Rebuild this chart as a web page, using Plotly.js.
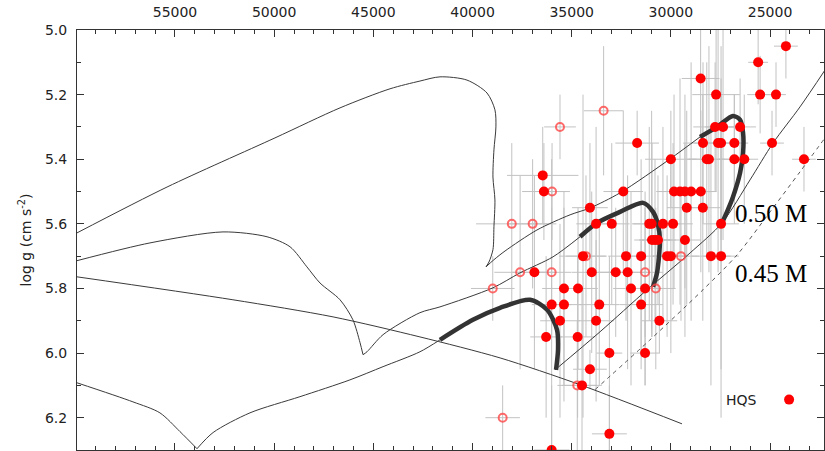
<!DOCTYPE html>
<html>
<head>
<meta charset="utf-8">
<script src="https://cdn.plot.ly/plotly-3.0.1.min.js"></script>
<style>html,body{margin:0;padding:0;background:#fff;}#chart{width:825px;height:451px;}</style>
</head>
<body>
<div id="chart"></div>
<script>
// ---- evolutionary tracks (Teff [K], log g), split at cusps ----
const trackA1_T = [59940, 55400, 49960, 46680, 44160, 42650, 41640, 40280, 39270, 38870, 38820, 38920, 38970, 38870, 38920, 38970, 39170, 39320];
const trackA1_G = [5.628, 5.486, 5.334, 5.241, 5.182, 5.158, 5.145, 5.155, 5.195, 5.247, 5.300, 5.371, 5.455, 5.526, 5.609, 5.680, 5.718, 5.733];
const trackA2_T = [39320, 38920, 38360, 36750, 35080, 34080, 32560, 30040, 28530];
const trackA2_G = [5.733, 5.711, 5.684, 5.619, 5.572, 5.551, 5.504, 5.399, 5.331];
const track050_T = [28530, 27670, 26870, 26510, 26360, 26360, 26510, 26870, 27170, 27420];
const track050_G = [5.331, 5.300, 5.266, 5.278, 5.319, 5.380, 5.442, 5.517, 5.563, 5.597];

const trackB1_T = [59940, 56260, 52580, 50360, 49200, 48350, 47690, 46680, 46030, 45670, 45520];
const trackB1_G = [5.714, 5.659, 5.625, 5.640, 5.671, 5.733, 5.783, 5.835, 5.897, 5.968, 6.005];
const trackB2_T = [45520, 45320, 44510, 42650, 41640, 38970, 37610, 35940, 34580];
const trackB2_G = [6.005, 5.996, 5.943, 5.875, 5.857, 5.798, 5.752, 5.702, 5.640];
const trackBthick_T = [34580, 33720, 32560, 31400, 30900, 30650, 30550, 30600, 30700, 30900];
const trackBthick_G = [5.640, 5.597, 5.563, 5.535, 5.563, 5.603, 5.650, 5.702, 5.752, 5.795];

const trackC1_T = [59940, 57120, 55760, 54750, 53890];
const trackC1_G = [6.092, 6.151, 6.185, 6.243, 6.296];
const trackC2_T = [53890, 53080, 51220, 48700, 46180, 44510, 42650, 41640];
const trackC2_G = [6.296, 6.246, 6.185, 6.135, 6.083, 6.042, 5.996, 5.959];
const trackCthick_T = [41640, 39980, 38610, 37100, 36240, 35740, 35690, 35790];
const trackCthick_G = [5.959, 5.897, 5.860, 5.835, 5.866, 5.928, 5.990, 6.052];

const lineD_T = [59940, 52080, 47030, 42650, 38610, 34580, 29440];
const lineD_G = [5.764, 5.835, 5.888, 5.950, 6.015, 6.098, 6.219];

const zaehb_T = [35840, 33570, 31200, 29030, 27420, 26010, 24850, 23490, 22230];
const zaehb_G = [6.052, 5.934, 5.804, 5.690, 5.597, 5.464, 5.350, 5.238, 5.124];

const dashed_T = [33820, 31050, 28380, 26660, 25000, 23490, 22230];
const dashed_G = [6.113, 5.959, 5.804, 5.696, 5.563, 5.439, 5.334];

// ---- HQS stars (filled) ----
const hqsT  = [24200,25600,28500,27720,25500,24700,27770,27370,26510,31700,28380,27620,27470,26800,24900,30000,28190,28080,26800,26300,23290,36460,36400,32400,29840,29540,29290,28980,28490,34080,29200,28390,33770,32980,31090,30970,30400,29890,27470,30950,30800,30650,29290,34430,32260,31500,30190,30000,27980,27470,36880,33990,32780,32180,35390,34680,32010,31300,36010,35390,33610,31500,35590,33770,30580,36290,34700,33100,31300,34080,34480,33100,36010];
const hqsG  = [5.05,5.10,5.15,5.20,5.20,5.20,5.30,5.30,5.30,5.35,5.35,5.35,5.35,5.35,5.35,5.40,5.40,5.40,5.40,5.40,5.40,5.45,5.50,5.50,5.50,5.50,5.50,5.50,5.50,5.55,5.55,5.55,5.60,5.60,5.60,5.60,5.60,5.60,5.60,5.65,5.65,5.65,5.65,5.70,5.70,5.70,5.70,5.70,5.70,5.70,5.75,5.75,5.75,5.75,5.80,5.80,5.80,5.80,5.85,5.85,5.85,5.85,5.90,5.90,5.90,5.95,5.95,6.00,6.00,6.05,6.10,6.25,6.30];
const hqsDT = [600,500,950,1200,650,500,1100,900,800,1100,1000,1200,900,700,600,1300,900,1100,800,700,600,1800,1100,1000,900,1000,800,1100,800,900,1000,900,1000,900,800,1000,900,1000,900,900,800,900,800,1200,900,1000,800,900,1000,900,1100,1000,900,1000,1100,1000,900,1000,1000,900,1000,1100,1000,900,900,800,850,650,750,850,1000,880,900];
const hqsDG = [0.10,0.13,0.25,0.30,0.12,0.10,0.20,0.35,0.15,0.10,0.25,0.40,0.30,0.15,0.10,0.15,0.30,0.35,0.20,0.20,0.10,0.15,0.15,0.25,0.30,0.35,0.30,0.40,0.25,0.20,0.30,0.35,0.30,0.25,0.30,0.35,0.30,0.25,0.45,0.30,0.25,0.20,0.30,0.50,0.20,0.30,0.25,0.30,0.40,0.50,0.30,0.25,0.20,0.30,0.30,0.25,0.30,0.30,0.45,0.30,0.25,0.20,0.30,0.25,0.10,0.25,0.25,0.30,0.10,0.06,0.30,0.15,0.20];

// ---- other stars (open) ----
const othT  = [33390,35590,35990,38020,36970,34280,29490,37600,36010,31300,38980,30760,34720,38480];
const othG  = [5.25,5.30,5.50,5.60,5.60,5.70,5.70,5.75,5.75,5.75,5.80,5.80,6.10,6.20];
const othDT = [1000,800,900,1800,1200,1000,900,1300,1000,900,1100,1000,1000,870];
const othDG = [0.20,0.10,0.15,0.25,0.20,0.25,0.20,0.30,0.20,0.20,0.10,0.25,0.20,0.10];

const xTicks = [55000, 50000, 45000, 40000, 35000, 30000, 25000];
const yTicks = [5.0, 5.2, 5.4, 5.6, 5.8, 6.0, 6.2];

const ebStyle = {type:'data', visible:true, color:'#c2c2c2', thickness:1, width:0};
function errTrace(x, y, dx, dy){
  return {x:x, y:y, mode:'markers', type:'scatter', showlegend:false, hoverinfo:'skip',
    marker:{size:1, color:'rgba(0,0,0,0)'},
    error_x:Object.assign({array:dx}, ebStyle), error_y:Object.assign({array:dy}, ebStyle)};
}
function line(x, y, w, dash, col){
  return {x:x, y:y, mode:'lines', type:'scatter', showlegend:false, hoverinfo:'skip',
    line:{color:col||'#3a3a3a', width:w, dash:dash||'solid', shape:'spline', smoothing:0.8}};
}

const data = [
  errTrace(othT, othG, othDT, othDG),
  errTrace(hqsT, hqsG, hqsDT, hqsDG),
  line(lineD_T, lineD_G, 1),
  line(trackA1_T, trackA1_G, 1),
  line(trackA2_T, trackA2_G, 1),
  line(trackB1_T, trackB1_G, 1),
  line(trackB2_T, trackB2_G, 1),
  line(trackC1_T, trackC1_G, 1),
  line(trackC2_T, trackC2_G, 1),
  line(zaehb_T, zaehb_G, 1),
  line(dashed_T, dashed_G, 1, '4px,4px', '#555'),
  line(track050_T, track050_G, 4.5, null, '#333'),
  line(trackBthick_T, trackBthick_G, 4.5, null, '#333'),
  line(trackCthick_T, trackCthick_G, 4.5, null, '#333'),
  {x:othT, y:othG, mode:'markers', type:'scatter', showlegend:false,
   marker:{symbol:'circle-open', size:8, color:'rgba(255,70,70,0.8)', line:{width:2}}},
  {x:hqsT, y:hqsG, mode:'markers', type:'scatter', name:'HQS', showlegend:false,
   marker:{symbol:'circle', size:10, color:'#ff0000', line:{width:0}}}
];

const axisCommon = {
  showgrid:false, zeroline:false, showline:true, linecolor:'#333', linewidth:1,
  mirror:'allticks', ticks:'inside', ticklen:7, tickcolor:'#333', tickwidth:1,
  tickfont:{family:'DejaVu Sans', size:14, color:'#222'}
};

const layout = {
  width:825, height:451,
  margin:{l:77, r:1, t:30, b:1},
  paper_bgcolor:'#fff', plot_bgcolor:'#fff',
  showlegend:false,
  xaxis:Object.assign({}, axisCommon, {
    side:'top', range:[59940, 22280], tickmode:'array', tickvals:xTicks,
    ticktext:xTicks.map(String), ticklabelstandoff:6,
    minor:{dtick:1000, tick0:0, ticks:'inside', ticklen:4, tickcolor:'#333'}
  }),
  yaxis:Object.assign({}, axisCommon, {
    range:[6.3, 5.0], tickmode:'array', tickvals:yTicks,
    ticktext:yTicks.map(v=>v.toFixed(1)), ticklabelstandoff:6,
    minor:{dtick:0.1, tick0:5.0, ticks:'inside', ticklen:4, tickcolor:'#333'},
    title:{text:'log g (cm s<sup>-2</sup>)', font:{family:'DejaVu Sans', size:14, color:'#222'}, standoff:10}
  }),
  annotations:[
    {x:26870, y:5.569, xref:'x', yref:'y', text:'0.50 M', showarrow:false, xanchor:'left', yanchor:'middle',
     font:{family:'Liberation Serif', size:25, color:'#000'}},
    {x:26870, y:5.755, xref:'x', yref:'y', text:'0.45 M', showarrow:false, xanchor:'left', yanchor:'middle',
     font:{family:'Liberation Serif', size:25, color:'#000'}},
    {x:26460, y:6.144, xref:'x', yref:'y', text:'HQS', showarrow:false, xanchor:'center', yanchor:'middle',
     font:{family:'DejaVu Sans', size:14, color:'#222'}}
  ],
  shapes:[
    {type:'circle', xref:'x', yref:'y', xsizemode:'pixel', ysizemode:'pixel',
     xanchor:24040, yanchor:6.144, x0:-5, x1:5, y0:-5, y1:5, fillcolor:'#ff0000', line:{width:0}}
  ]
};

Plotly.newPlot('chart', data, layout, {staticPlot:true, displayModeBar:false});
</script>
</body>
</html>
